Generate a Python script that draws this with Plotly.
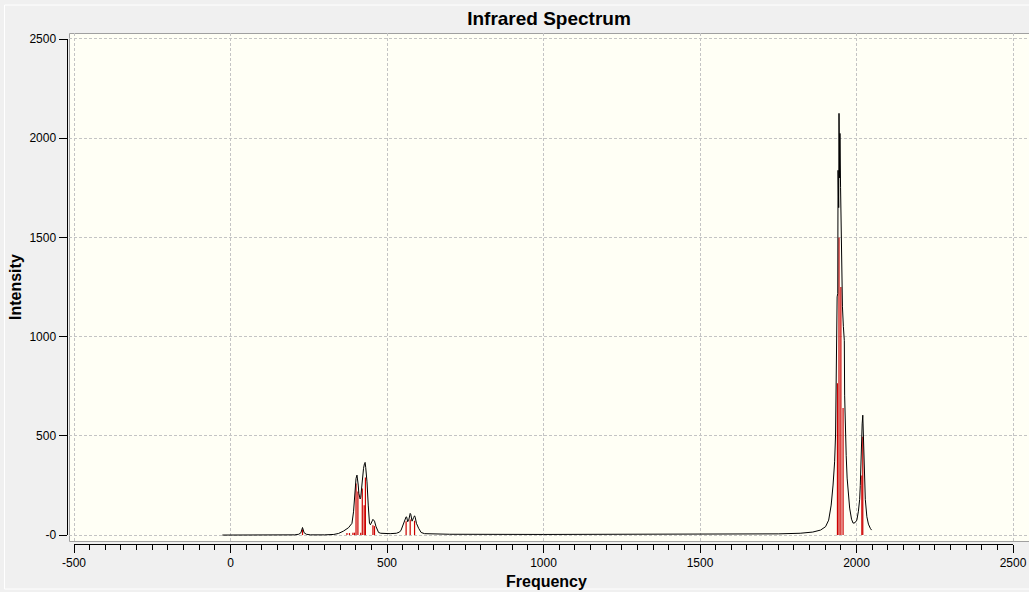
import plotly.graph_objects as go

# stick spectrum (frequency in cm-1, intensity)
stick_freq = [230, 372, 380, 391, 396, 401, 407, 416, 421, 427, 431, 455, 460,
              561, 574, 588, 1939, 1944, 1950, 1957, 2017, 2020]
stick_int = [28, 10, 10, 12, 12, 260, 220, 12, 235, 150, 290, 50, 45,
             70, 78, 72, 765, 1500, 1250, 640, 300, 495]

# broadened curve
curve_freq = [-26, 150, 205, 218, 225, 230, 235, 242, 255, 300, 330, 345, 361,
              377, 388, 393, 398, 401, 404, 406, 408, 410, 412, 414, 416, 418,
              421, 425, 428, 430, 432, 436, 440, 444, 447, 450, 453, 455, 457,
              460, 465, 473, 480, 489, 510, 530, 540, 545, 551, 556, 561, 563,
              566, 570, 574, 576, 580, 585, 588, 590, 594, 601, 609, 620, 700,
              1000, 1300, 1600, 1750, 1820, 1860, 1885, 1901, 1911, 1919, 1925,
              1930, 1933, 1936, 1938, 1940, 1941, 1943, 1944, 1946, 1947, 1949,
              1950, 1952, 1955, 1958, 1961, 1962, 1964, 1967, 1970, 1974, 1978,
              1984, 1989, 1995, 2001, 2006, 2010, 2012, 2014, 2016, 2017, 2018,
              2020, 2022, 2025, 2028, 2033, 2038, 2044, 2048]
curve_int = [0, 0, 1, 4, 12, 38, 12, 4, 1, 1, 3, 8, 20,
             37, 59, 117, 236, 285, 302, 285, 252, 210, 185, 182, 190, 225,
             285, 336, 360, 366, 340, 268, 151, 59, 52, 59, 72, 79, 76,
             70, 42, 13, 9, 8, 7, 9, 15, 25, 50, 75, 92, 90,
             67, 80, 109, 104, 70, 88, 97, 90, 59, 34, 13, 7, 4,
             3, 3, 4, 6, 9, 15, 25, 42, 75, 151, 252,
             369, 504, 980, 1200, 1218, 1838, 1650, 2125, 1800, 2024, 1750,
             1621, 1300, 1150, 1050, 980, 705, 540, 400, 287, 200, 136,
             80, 60, 62, 75, 120, 180, 250, 400, 537, 500, 560,
             604, 480, 310, 180, 92, 55, 34, 25]

x_ticks = [-500, 0, 500, 1000, 1500, 2000, 2500]
x_labels = ["-500", "0", "500", "1000", "1500", "2000", "2500"]
y_ticks = [0, 500, 1000, 1500, 2000, 2500]
y_labels = ["-0", "500", "1000", "1500", "2000", "2500"]

W, H = 1029, 592
font = "Arial, Liberation Sans, sans-serif"

# sticks as one line trace broken by gaps
sx, sy = [], []
for f, i in zip(stick_freq, stick_int):
    sx += [f, f, None]
    sy += [0, i, None]

fig = go.Figure()
fig.add_trace(go.Scatter(x=sx, y=sy, mode="lines",
                         line=dict(color="#cc0000", width=1.2),
                         hoverinfo="skip", showlegend=False))
fig.add_trace(go.Scatter(x=curve_freq, y=curve_int, mode="lines",
                         line=dict(color="black", width=1),
                         showlegend=False))
# dummy trace so the offset axes get drawn
fig.add_trace(go.Scatter(x=[None], y=[None], xaxis="x2", yaxis="y2",
                         showlegend=False, hoverinfo="skip"))

grid = dict(showgrid=True, gridcolor="#c4c4c4", griddash="3px,2px", gridwidth=1,
            showticklabels=False, ticks="", zeroline=False, showline=False,
            automargin=False)
fig.update_layout(
    width=W, height=H,
    margin=dict(l=0, r=0, t=0, b=0, autoexpand=False),
    paper_bgcolor="#f0f0f0",
    plot_bgcolor="rgba(0,0,0,0)",
    font=dict(family=font, size=12, color="black"),
    title=dict(text="<b>Infrared Spectrum</b>", x=549 / W, xanchor="center",
               y=1 - 18 / H, yanchor="middle", font=dict(size=19)),
    xaxis=dict(domain=[69 / W, 1], range=[-516, 2551], tickvals=x_ticks, **grid),
    yaxis=dict(domain=[1 - 541 / H, 1 - 33 / H], range=[-30, 2530],
               tickvals=y_ticks, **grid),
    xaxis2=dict(domain=[74 / W, 1013 / W], range=[-500, 2500], anchor="free",
                position=1 - 544 / H, side="bottom", automargin=False,
                showline=True, linecolor="black", linewidth=1,
                tickmode="array", tickvals=x_ticks, ticktext=x_labels,
                ticks="outside", ticklen=8, tickcolor="black",
                minor=dict(tickmode="linear", tick0=-500, dtick=50,
                           ticks="outside", ticklen=5, tickcolor="black"),
                showgrid=False, zeroline=False, tickfont=dict(size=12)),
    yaxis2=dict(domain=[1 - 535 / H, 1 - 39 / H], range=[0, 2500], anchor="free",
                position=66.5 / W, side="left", automargin=False,
                showline=True, linecolor="black", linewidth=1,
                tickmode="array", tickvals=y_ticks, ticktext=y_labels,
                ticks="outside", ticklen=8, tickcolor="black",
                showgrid=False, zeroline=False, tickfont=dict(size=12)),
    annotations=[
        dict(text="<b>Frequency</b>", x=546 / W, y=1 - 581 / H, xref="paper",
             yref="paper", showarrow=False, font=dict(size=16),
             xanchor="center", yanchor="middle"),
        dict(text="<b>Intensity</b>", x=15 / W, y=1 - 287 / H, xref="paper",
             yref="paper", showarrow=False, font=dict(size=16), textangle=-90,
             xanchor="center", yanchor="middle"),
    ],
    shapes=[
        # window frame
        dict(type="rect", xref="paper", yref="paper",
             x0=4.5 / W, x1=1.01, y0=1 - 589 / H, y1=1 - 5 / H,
             line=dict(color="white", width=1), fillcolor="rgba(0,0,0,0)",
             layer="below"),
        # plot area
        dict(type="rect", xref="paper", yref="paper",
             x0=69.5 / W, x1=1.01, y0=1 - 541.5 / H, y1=1 - 33.5 / H,
             line=dict(color="#a0a0a0", width=1), fillcolor="#fffff5",
             layer="below"),
    ],
)

fig.write_html("out.html", config={"displayModeBar": False},
               post_script="document.body.style.margin='0';")
